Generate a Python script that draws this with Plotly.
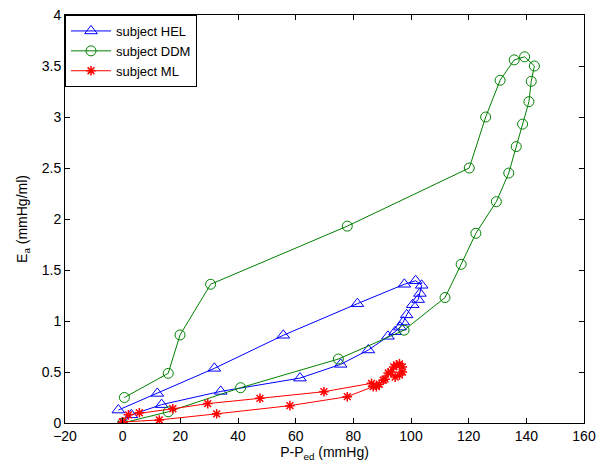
import plotly.graph_objects as go

# ---- data ----
hel_x = [0, 3, 13.5, 34, 61.5, 75.6, 85.2, 92, 94.5, 96.2, 97.3, 98.5, 100.6, 102.5, 103.1, 103.7, 101.6, 97.7, 81.4, 55.7, 31.8, 12, -1.5]
hel_y = [0, 0.08, 0.18, 0.31, 0.44, 0.575, 0.716, 0.85, 0.895, 0.94, 0.99, 1.06, 1.16, 1.21, 1.27, 1.35, 1.395, 1.36, 1.17, 0.86, 0.536, 0.29, 0.127]

ddm_x = [0.6, 15.8, 19.9, 30.5, 77.9, 120.2, 125.9, 130.9, 135.8, 139.4, 142.8, 141.7, 140.9, 138.7, 136.5, 133.9, 129.6, 122.5, 117.4, 111.8, 97.6, 74.8, 40.9, 15.8, 0]
ddm_y = [0.25, 0.487, 0.863, 1.36, 1.93, 2.50, 3.0, 3.36, 3.56, 3.59, 3.50, 3.35, 3.15, 2.93, 2.71, 2.45, 2.17, 1.86, 1.556, 1.23, 0.91, 0.627, 0.346, 0.11, 0]

ml_x = [0, 12.7, 32.6, 58, 77.9, 86.9, 89, 91, 93, 94, 95, 96, 97, 97, 96, 94.5, 92.1, 90.4, 88, 86.3, 69.8, 47.6, 29.5, 17.4, 5.8, 2, 0]
ml_y = [0.01, 0.03, 0.09, 0.17, 0.258, 0.356, 0.38, 0.43, 0.5, 0.55, 0.57, 0.58, 0.55, 0.5, 0.47, 0.45, 0.49, 0.42, 0.356, 0.389, 0.307, 0.242, 0.19, 0.14, 0.1, 0.08, 0.01]

x_ticks = [-20, 0, 20, 40, 60, 80, 100, 120, 140, 160]
y_ticks = [0, 0.5, 1, 1.5, 2, 2.5, 3, 3.5, 4]
y_labels = ["0", "0.5", "1", "1.5", "2", "2.5", "3", "3.5", "4"]

fig = go.Figure()
fig.add_trace(go.Scatter(x=hel_x, y=hel_y, mode="lines+markers", name="subject HEL",
                         line=dict(color="#0000ff", width=1),
                         marker=dict(symbol="triangle-up-open", size=11, color="#0000ff", line=dict(width=1))))
fig.add_trace(go.Scatter(x=ddm_x, y=ddm_y, mode="lines+markers", name="subject DDM",
                         line=dict(color="#008000", width=1),
                         marker=dict(symbol="circle-open", size=10, color="#008000", line=dict(width=1))))
fig.add_trace(go.Scatter(x=ml_x, y=ml_y, mode="lines+markers", name="subject ML",
                         line=dict(color="#ff0000", width=1),
                         marker=dict(symbol="asterisk-open", size=8, color="#ff0000", line=dict(width=1.5, color="#ff0000"))))

axis_style = dict(showline=True, linecolor="black", linewidth=1, mirror="ticks",
                  ticks="inside", ticklen=5, tickcolor="black", showgrid=False, zeroline=False,
                  tickfont=dict(size=14, color="black"), automargin=False)

fig.update_xaxes(range=[-20, 160], tickvals=x_ticks,
                 title=dict(text="P-P<sub>ed</sub> (mmHg)", font=dict(size=14, color="black"), standoff=4),
                 **axis_style)
fig.update_yaxes(range=[0, 4], tickvals=y_ticks, ticktext=y_labels,
                 title=dict(text="E<sub>a</sub> (mmHg/ml)", font=dict(size=14, color="black"), standoff=10),
                 **axis_style)

fig.update_layout(
    width=600, height=474,
    margin=dict(l=65, r=16, t=15, b=51),
    paper_bgcolor="white", plot_bgcolor="white",
    font=dict(family="Liberation Sans, Arial, sans-serif", size=14, color="black"),
    legend=dict(x=0, y=1, xanchor="left", yanchor="top", bgcolor="white",
                bordercolor="black", borderwidth=1, font=dict(size=13), tracegroupgap=0,
                itemwidth=40),
    showlegend=True,
)

# page body has a default margin; drop it so the figure fills the window
fig.write_html("out.html", config={"displayModeBar": False},
               post_script="document.body.style.margin='0px';document.body.style.overflow='hidden';")
